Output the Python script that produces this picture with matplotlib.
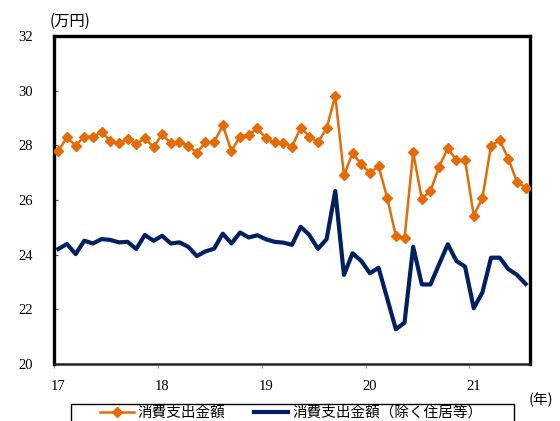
import matplotlib
matplotlib.use("Agg")
import matplotlib.pyplot as plt
from matplotlib.lines import Line2D
from matplotlib.patches import Rectangle
from matplotlib.transforms import ScaledTranslation
import numpy as np

# Monthly spending, Jan 2017 - Jul 2021 (10,000 yen)
spending_total = [
    27.80, 28.29, 27.99, 28.32, 28.32, 28.48, 28.17, 28.07, 28.23, 28.05, 28.26, 27.93,
    28.41, 28.07, 28.11, 27.99, 27.73, 28.11, 28.11, 28.74, 27.79, 28.32, 28.38, 28.62,
    28.26, 28.11, 28.07, 27.95, 28.65, 28.32, 28.11, 28.62, 29.82, 26.91, 27.71, 27.31,
    26.98, 27.24, 26.08, 24.69, 24.60, 27.74, 26.04, 26.33, 27.22, 27.89, 27.46, 27.46,
    25.43, 26.07, 27.99, 28.18, 27.51, 26.66, 26.45,
]
spending_ex_housing = [
    24.21, 24.39, 24.02, 24.51, 24.41, 24.57, 24.54, 24.45, 24.47, 24.21, 24.72, 24.51,
    24.69, 24.41, 24.45, 24.29, 23.95, 24.12, 24.22, 24.77, 24.41, 24.81, 24.63, 24.71,
    24.56, 24.47, 24.44, 24.36, 25.02, 24.72, 24.21, 24.57, 26.33, 23.26, 24.05, 23.77,
    23.32, 23.52, 22.40, 21.27, 21.51, 24.29, 22.91, 22.91, 23.65, 24.38, 23.77, 23.56,
    22.04, 22.62, 23.89, 23.89, 23.47, 23.26, 22.93,
]
year_labels = ["17", "18", "19", "20", "21"]
y_ticks = [20, 22, 24, 26, 28, 30, 32]
series_names = ["消費支出金額", "消費支出金額（除く住居等）"]

ORANGE = "#E36C09"
NAVY = "#002060"
NUM_FONT = "Liberation Serif"
JP_FONT = ["Noto Sans CJK JP", "DejaVu Sans"]

fig = plt.figure(figsize=(5.6, 4.21), dpi=100)
ax = fig.add_axes([54 / 560, 1 - 364 / 421, 476 / 560, 328 / 421])

x = np.arange(len(spending_total)) + 0.5
ax.plot(x, spending_total, color=ORANGE, lw=1.8, marker="D", ms=5.5,
        mec=ORANGE, mfc=ORANGE, zorder=3)
ax.plot(x, spending_ex_housing, color=NAVY, lw=3.0, zorder=2)

ax.set_xlim(0, len(spending_total))
ax.set_ylim(20, 32)

ax.set_xticks(np.arange(len(year_labels)) * 12)
ax.set_xticklabels(year_labels, fontfamily=NUM_FONT, fontsize=10.5)
ax.tick_params(axis="x", direction="out", length=3, width=0.8, color="#999999", pad=8.5)
shift = ScaledTranslation(4 / 100, 0, fig.dpi_scale_trans)
for lbl in ax.get_xticklabels():
    lbl.set_transform(lbl.get_transform() + shift)

ax.set_yticks(y_ticks)
ax.set_yticklabels([str(v) for v in y_ticks], fontfamily=NUM_FONT, fontsize=10.5)
ax.tick_params(axis="y", direction="in", length=3, width=0.8, color="#555555", pad=15)

for side in ["left", "top", "right"]:
    ax.spines[side].set_linewidth(2.4)
    ax.spines[side].set_color("black")
ax.spines["bottom"].set_linewidth(1.8)
ax.spines["bottom"].set_color("#222222")

fig.text(50 / 560, 1 - 21 / 421, "(万円)", family=JP_FONT, fontsize=11,
         ha="left", va="center")
fig.text(529 / 560, 1 - 400 / 421, "(年)", family=JP_FONT, fontsize=10.5,
         ha="left", va="center")

# Legend box running off the bottom edge
fig.patches.append(Rectangle((71 / 560, -0.02), 443 / 560, 0.02 + 17 / 421,
                             transform=fig.transFigure, fill=False,
                             edgecolor="black", lw=1.0))
handles = [
    Line2D([], [], color=ORANGE, lw=1.8, marker="D", ms=5.5, markevery=[1]),
    Line2D([], [], color=NAVY, lw=3.0),
]
handles[0].set_data([0, 0.5, 1], [0, 0, 0])
fig.legend(handles, series_names, loc="center left",
           bbox_to_anchor=(100 / 560, 1 - 413 / 421), ncol=2, frameon=False,
           prop={"family": JP_FONT, "size": 10.5}, handlelength=2.35,
           handletextpad=0.25, columnspacing=1.95, borderpad=0, borderaxespad=0)

fig.savefig("out.png", dpi=100)
